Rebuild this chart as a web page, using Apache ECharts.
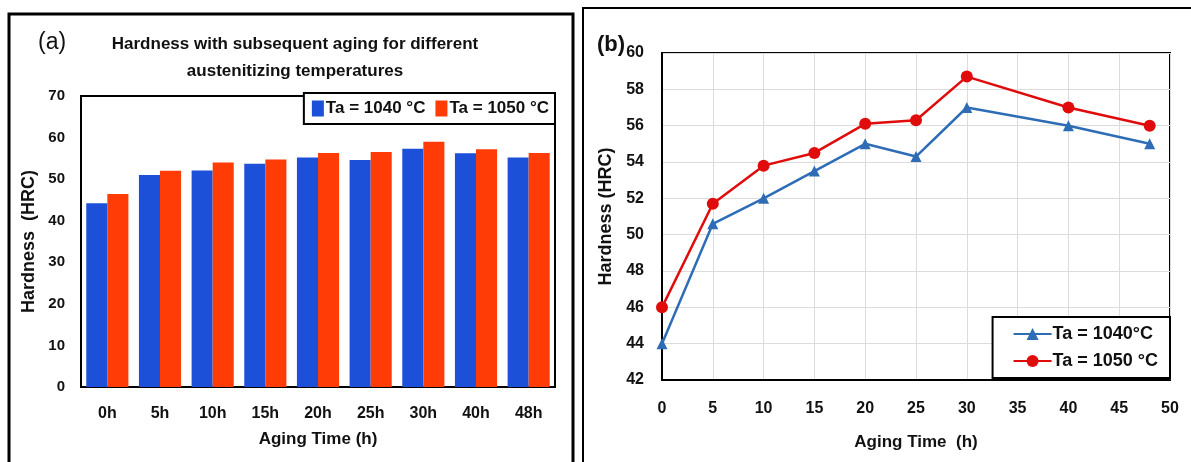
<!DOCTYPE html>
<html>
<head>
<meta charset="utf-8">
<script src="https://cdn.jsdelivr.net/npm/echarts@6/dist/echarts.min.js"></script>
<style>
  html, body { margin: 0; padding: 0; background: #fff; }
  #chart { width: 1191px; height: 462px; }
</style>
</head>
<body>
<div id="chart"></div>
<script>
// panel (a) - bars
var barCategories = ['0h', '5h', '10h', '15h', '20h', '25h', '30h', '40h', '48h'];
var bar1040 = [44.2, 51.0, 52.1, 53.7, 55.2, 54.6, 57.3, 56.2, 55.2];
var bar1050 = [46.4, 52.0, 54.0, 54.7, 56.3, 56.5, 59.0, 57.2, 56.3];

// panel (b) - lines, [time, hardness]
var agingHours = [0, 5, 10, 15, 20, 25, 30, 40, 48];
var line1040 = [44.0, 50.6, 52.0, 53.5, 55.0, 54.3, 57.0, 56.0, 55.0];
var line1050 = [46.0, 51.7, 53.8, 54.5, 56.1, 56.3, 58.7, 57.0, 56.0];

function pairs(xs, ys) {
    var out = [];
    for (var i = 0; i < xs.length; i++) out.push([xs[i], ys[i]]);
    return out;
}

var FONT = "'Liberation Sans', sans-serif";
var bold = { fontFamily: FONT, fontWeight: 'bold', color: '#111' };

var myChart = echarts.init(document.getElementById('chart'));

var option = {
    backgroundColor: '#fff',
    animation: false,
    textStyle: { fontFamily: FONT },
    title: [
        {
            text: 'Hardness with subsequent aging for different\naustenitizing temperatures',
            left: 290, top: 26, textAlign: 'center',
            textStyle: { fontFamily: FONT, fontWeight: 'bold', fontSize: 17, lineHeight: 27, color: '#111' }
        },
        {
            text: '(a)', left: 33, top: 26,
            textStyle: { fontFamily: FONT, fontWeight: 'normal', fontSize: 23, color: '#111' }
        },
        {
            text: '(b)', left: 592, top: 29,
            textStyle: { fontFamily: FONT, fontWeight: 'bold', fontSize: 22, color: '#111' }
        }
    ],
    graphic: [
        { type: 'rect', shape: { x: 9, y: 14, width: 564, height: 470 }, style: { fill: 'none', stroke: '#000', lineWidth: 3 } },
        { type: 'rect', shape: { x: 583, y: 8, width: 620, height: 470 }, style: { fill: 'none', stroke: '#000', lineWidth: 2 } }
    ],
    legend: [
        {
            data: ['Ta = 1040 °C', 'Ta = 1050 °C'],
            right: 636, top: 93,
            orient: 'horizontal',
            icon: 'rect', itemWidth: 12, itemHeight: 16, itemGap: 10,
            backgroundColor: '#fff', borderColor: '#000', borderWidth: 2,
            padding: [7, 6, 7, 8],
            textStyle: { fontFamily: FONT, fontWeight: 'bold', fontSize: 17, color: '#111', padding: [0, 0, 0, -3] }
        },
        {
            data: ['Ta = 1040°C (b)', 'Ta = 1050 °C (b)'],
            formatter: function (name) { return name.replace(' (b)', ''); },
            right: 21, top: 317,
            orient: 'vertical',
            itemWidth: 38, itemHeight: 15, itemGap: 9,
            backgroundColor: '#fff', borderColor: '#000', borderWidth: 2,
            padding: [8, 12, 8, 20],
            textStyle: { fontFamily: FONT, fontWeight: 'bold', fontSize: 18, color: '#111', padding: [0, 0, 0, -4] }
        }
    ],
    grid: [
        { left: 81, top: 96, width: 474, height: 291, show: true, borderColor: '#000', borderWidth: 2, backgroundColor: 'transparent' },
        { left: 662, top: 53, width: 508, height: 327, show: true, borderColor: '#000', borderWidth: 2, backgroundColor: 'transparent' }
    ],
    xAxis: [
        {
            type: 'category', gridIndex: 0, data: barCategories,
            name: 'Aging Time (h)', nameLocation: 'middle', nameGap: 44,
            nameTextStyle: { fontFamily: FONT, fontWeight: 'bold', fontSize: 17, color: '#111' },
            axisLine: { lineStyle: { color: '#000', width: 2 } },
            axisTick: { show: false },
            axisLabel: Object.assign({ fontSize: 16, margin: 19 }, bold)
        },
        {
            type: 'value', gridIndex: 1, min: 0, max: 50, interval: 5,
            name: 'Aging Time  (h)', nameLocation: 'middle', nameGap: 54,
            nameTextStyle: { fontFamily: FONT, fontWeight: 'bold', fontSize: 17, color: '#111' },
            axisLine: { lineStyle: { color: '#000', width: 2 } },
            axisTick: { show: false },
            splitLine: { show: true, lineStyle: { color: '#dcdcdc', width: 1 } },
            axisLabel: Object.assign({ fontSize: 16, margin: 21 }, bold)
        }
    ],
    yAxis: [
        {
            type: 'value', gridIndex: 0, min: 0, max: 70, interval: 10,
            name: 'Hardness  (HRC)', nameLocation: 'middle', nameGap: 43,
            nameTextStyle: { fontFamily: FONT, fontWeight: 'bold', fontSize: 18, color: '#111' },
            axisLine: { show: true, lineStyle: { color: '#000', width: 2 } },
            axisTick: { show: false },
            splitLine: { show: false },
            axisLabel: Object.assign({ fontSize: 15, margin: 16 }, bold)
        },
        {
            type: 'value', gridIndex: 1, min: 42, max: 60, interval: 2,
            name: 'Hardness (HRC)', nameLocation: 'middle', nameGap: 47,
            nameTextStyle: { fontFamily: FONT, fontWeight: 'bold', fontSize: 18, color: '#111' },
            axisLine: { show: true, lineStyle: { color: '#000', width: 2 } },
            axisTick: { show: false },
            splitLine: { show: true, lineStyle: { color: '#dcdcdc', width: 1 } },
            axisLabel: Object.assign({ fontSize: 16, margin: 18 }, bold)
        }
    ],
    series: [
        {
            name: 'Ta = 1040 °C', type: 'bar', xAxisIndex: 0, yAxisIndex: 0,
            data: bar1040, barGap: '0%', barCategoryGap: '20%',
            itemStyle: { color: '#1c50d8' }
        },
        {
            name: 'Ta = 1050 °C', type: 'bar', xAxisIndex: 0, yAxisIndex: 0,
            data: bar1050, barGap: '0%', barCategoryGap: '20%',
            itemStyle: { color: '#ff3c06' }
        },
        {
            name: 'Ta = 1040°C (b)', type: 'line', xAxisIndex: 1, yAxisIndex: 1,
            data: pairs(agingHours, line1040),
            symbol: 'triangle', symbolSize: 11,
            lineStyle: { color: '#2e6db6', width: 2.5 },
            itemStyle: { color: '#2e6db6' }
        },
        {
            name: 'Ta = 1050 °C (b)', type: 'line', xAxisIndex: 1, yAxisIndex: 1,
            data: pairs(agingHours, line1050),
            symbol: 'circle', symbolSize: 12,
            lineStyle: { color: '#e00c0c', width: 2.5 },
            itemStyle: { color: '#e00c0c' }
        }
    ]
};

myChart.setOption(option);
</script>
</body>
</html>
